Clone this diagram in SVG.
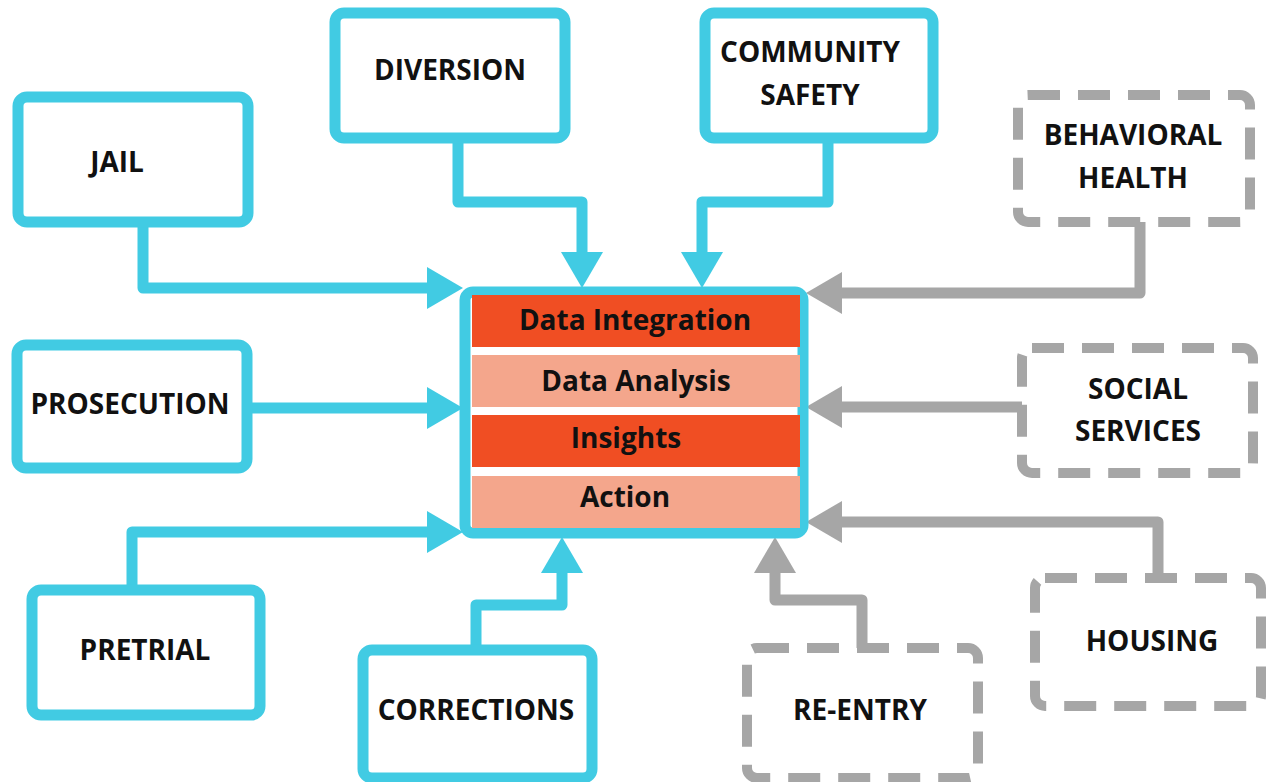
<svg xmlns="http://www.w3.org/2000/svg" width="1266" height="782" viewBox="0 0 1266 782">
<style>
.cb{fill:#fff;stroke:#41CBE3;stroke-width:11;}
.gb{fill:#fff;stroke:#A6A6A6;stroke-width:10;stroke-dasharray:32 18;}
.t{font-family:"Open Sans","Noto Sans",sans-serif;font-weight:bold;font-size:28px;fill:#111;text-anchor:middle;}
.c{fill:none;stroke:#41CBE3;stroke-width:11;stroke-linejoin:round;}
.g{fill:none;stroke:#A6A6A6;stroke-width:11;stroke-linejoin:round;}
</style>
<defs>
<marker id="ac" markerUnits="userSpaceOnUse" markerWidth="40" markerHeight="44" refX="0" refY="21" orient="auto"><path d="M0,0 L36,21 L0,42 z" fill="#41CBE3"/></marker>
<marker id="ag" markerUnits="userSpaceOnUse" markerWidth="40" markerHeight="44" refX="0" refY="21" orient="auto"><path d="M0,0 L36,21 L0,42 z" fill="#A6A6A6"/></marker>
</defs>
<rect width="1266" height="782" fill="#fff"/>
<g id="connectors">
<path class="c" d="M143,222 V288 H427" marker-end="url(#ac)"/>
<path class="c" d="M458,138 V202 H582 V252" marker-end="url(#ac)"/>
<path class="c" d="M828,138 V202 H702 V252" marker-end="url(#ac)"/>
<path class="g" d="M1140,222 V293 H842" marker-end="url(#ag)"/>
<path class="c" d="M247,408 H427" marker-end="url(#ac)"/>
<path class="g" d="M1022,407 H842" marker-end="url(#ag)"/>
<path class="c" d="M132,590 V532 H427" marker-end="url(#ac)"/>
<path class="c" d="M476,650 V605 H562 V573" marker-end="url(#ac)"/>
<path class="g" d="M862,648 V600 H775 V573" marker-end="url(#ag)"/>
<path class="g" d="M1158,578 V522 H842" marker-end="url(#ag)"/>
</g>
<g id="center">
<rect x="465" y="292" width="338" height="241" rx="8" fill="#fff" stroke="#41CBE3" stroke-width="11"/>
<rect x="472" y="295" width="328" height="52" fill="#F04E23"/>
<rect x="472" y="355" width="328" height="52" fill="#F4A68C"/>
<rect x="472" y="415" width="328" height="52" fill="#F04E23"/>
<rect x="472" y="476" width="328" height="52" fill="#F4A68C"/>
<text class="t" x="635" y="330">Data Integration</text>
<text class="t" x="636" y="391">Data Analysis</text>
<text class="t" x="626" y="448">Insights</text>
<text class="t" x="625" y="507">Action</text>
</g>
<g id="jail"><rect class="cb" x="18" y="97" width="230" height="125" rx="9"/><text class="t" x="117" y="172">JAIL</text></g>
<g id="diversion"><rect class="cb" x="335" y="13" width="230" height="125" rx="9"/><text class="t" x="450" y="80">DIVERSION</text></g>
<g id="community"><rect class="cb" x="705" y="13" width="228" height="125" rx="9"/><text class="t" x="810" y="62">COMMUNITY</text><text class="t" x="810" y="105">SAFETY</text></g>
<g id="behavioral"><rect class="gb" x="1018" y="95" width="232" height="127" rx="10"/><text class="t" x="1133" y="145">BEHAVIORAL</text><text class="t" x="1133" y="188">HEALTH</text></g>
<g id="prosecution"><rect class="cb" x="17" y="345" width="230" height="123" rx="9"/><text class="t" x="130" y="414">PROSECUTION</text></g>
<g id="social"><rect class="gb" x="1022" y="348" width="231" height="125" rx="10"/><text class="t" x="1138" y="399">SOCIAL</text><text class="t" x="1138" y="441">SERVICES</text></g>
<g id="pretrial"><rect class="cb" x="32" y="590" width="228" height="125" rx="9"/><text class="t" x="145" y="660">PRETRIAL</text></g>
<g id="corrections"><rect class="cb" x="363" y="650" width="229" height="128" rx="9"/><text class="t" x="476" y="720">CORRECTIONS</text></g>
<g id="reentry"><rect class="gb" x="747" y="648" width="231" height="130" rx="10"/><text class="t" x="860" y="720">RE-ENTRY</text></g>
<g id="housing"><rect class="gb" x="1035" y="578" width="226" height="128" rx="10"/><text class="t" x="1152" y="651">HOUSING</text></g>
</svg>
